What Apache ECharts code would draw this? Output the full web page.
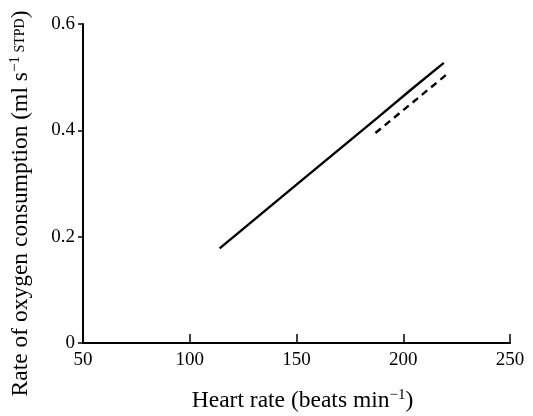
<!DOCTYPE html>
<html>
<head>
<meta charset="utf-8">
<script src="https://cdn.jsdelivr.net/npm/echarts@6/dist/echarts.min.js"></script>
<style>
  html, body { margin: 0; padding: 0; background: #fff; }
  #chart { width: 533px; height: 416px; }
</style>
</head>
<body>
<div id="chart"></div>
<script>
// Heart rate (beats/min) vs rate of oxygen consumption (ml/s STPD)
const solidHeartRate = [114, 150, 188, 205, 219];
const solidOxygen = [0.178, 0.298, 0.424, 0.481, 0.527];
const dashedHeartRate = [187, 220];
const dashedOxygen = [0.395, 0.504];

const xTicks = [50, 100, 150, 200, 250];
const yTicks = [0, 0.2, 0.4, 0.6];

const font = '"Liberation Serif", "DejaVu Serif", serif';

// pair up x and y values for the line series
function pairs(xs, ys) {
    return xs.map((x, i) => [x, ys[i]]);
}

const chartDom = document.getElementById('chart');
const myChart = echarts.init(chartDom);

const option = {
    animation: false,
    backgroundColor: '#fff',
    grid: { left: 83, right: 23, top: 24, bottom: 73, outerBoundsMode: 'none', containLabel: false },
    xAxis: {
        type: 'value',
        min: xTicks[0],
        max: xTicks[xTicks.length - 1],
        interval: 50,
        splitLine: { show: false },
        axisLine: { lineStyle: { color: '#000', width: 2 } },
        axisTick: { inside: true, length: 9, lineStyle: { color: '#000', width: 1.5 } },
        axisLabel: { color: '#000', fontFamily: font, fontSize: 19, margin: 8 },
        name: '{n|Heart rate (beats min}{s|\u22121}{n|)}',
        nameLocation: 'middle',
        nameGap: 45,
        nameTextStyle: {
            padding: [0, 0, 0, 12],
            rich: {
                n: { color: '#000', fontFamily: font, fontSize: 23.5 },
                s: { color: '#000', fontFamily: font, fontSize: 15, verticalAlign: 'top', padding: [0, 0, 10, 0] }
            }
        }
    },
    yAxis: {
        type: 'value',
        min: 0,
        max: yTicks[yTicks.length - 1],
        interval: 0.2,
        splitLine: { show: false },
        axisLine: { lineStyle: { color: '#000', width: 2 } },
        axisTick: { inside: false, length: 5, lineStyle: { color: '#000', width: 1.5 } },
        axisLabel: {
            color: '#000', fontFamily: font, fontSize: 19, margin: 8,
            formatter: v => (v === 0 ? '0' : v.toFixed(1))
        },
        name: '{n|Rate of oxygen consumption (ml s}{s|\u22121}{c| STPD}{n|)}',
        nameLocation: 'middle',
        nameGap: 50,
        nameTextStyle: {
            padding: [0, 40, 0, 0],
            rich: {
                n: { color: '#000', fontFamily: font, fontSize: 23.5 },
                s: { color: '#000', fontFamily: font, fontSize: 15, verticalAlign: 'top', padding: [0, 0, 10, 0] },
                c: { color: '#000', fontFamily: font, fontSize: 14 }
            }
        }
    },
    series: [
        {
            name: 'Solid',
            type: 'line',
            data: pairs(solidHeartRate, solidOxygen),
            showSymbol: false,
            lineStyle: { color: '#000', width: 2.4, type: 'solid' }
        },
        {
            name: 'Dashed',
            type: 'line',
            data: pairs(dashedHeartRate, dashedOxygen),
            showSymbol: false,
            lineStyle: { color: '#000', width: 2.4, type: [7, 5] }
        }
    ]
};

myChart.setOption(option);
</script>
</body>
</html>
